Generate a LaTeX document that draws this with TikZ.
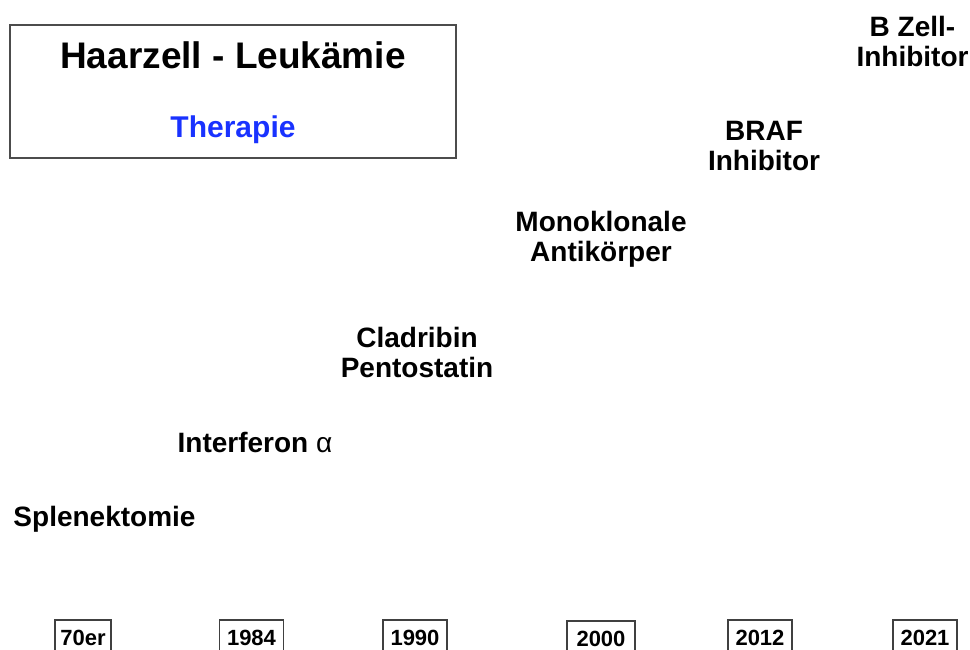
\documentclass[tikz,border=0pt]{standalone}
\usepackage{fontspec}
\setmainfont{Liberation Sans}
\definecolor{theraBlue}{RGB}{25,50,255}

\begin{document}
\begin{tikzpicture}[x=1pt,y=-1pt,
    lbl/.style={font=\fontsize{28}{30}\selectfont\bfseries,align=center,inner sep=0pt},
    yr/.style={draw=black!75,line width=1.5pt,font=\fontsize{22}{24}\selectfont\bfseries,
      minimum width=64pt,text height=17pt,text depth=12pt,inner ysep=8pt,anchor=base}]

  \clip (0,0) rectangle (970,650);

  % title box
  \node[draw=black!70,line width=1.5pt,minimum width=446pt,minimum height=133pt] (box) at (233,91.5) {};
  \node[font=\fontsize{37}{40}\selectfont\bfseries] (title) at (233,55) {Haarzell - Leukämie};
  \node[font=\fontsize{30}{32}\selectfont\bfseries,text=theraBlue] (sub) at (233,130) {Therapie};

  % therapies
  \node[lbl] (splen) at (104.5,519) {Splenektomie};
  \node[lbl] (ifn) at (255,442.5) {Interferon {\mdseries α}};
  \node[lbl] (clad) at (417,352) {Cladribin\\Pentostatin};
  \node[lbl] (mab) at (601,239) {Monoklonale\\Antikörper};
  \node[lbl] (braf) at (764,146) {BRAF\\Inhibitor};
  \node[lbl] (bzell) at (912.5,41) {B Zell-\\Inhibitor};

  % years
  \node[yr,minimum width=56pt] (y70) at (83,645) {70er};
  \node[yr] (y84) at (251.5,645) {1984};
  \node[yr] (y90) at (415,645) {1990};
  \node[yr,minimum width=68pt] (y00) at (601,646) {2000};
  \node[yr] (y12) at (760,645) {2012};
  \node[yr] (y21) at (925,645) {2021};

\end{tikzpicture}
\end{document}
